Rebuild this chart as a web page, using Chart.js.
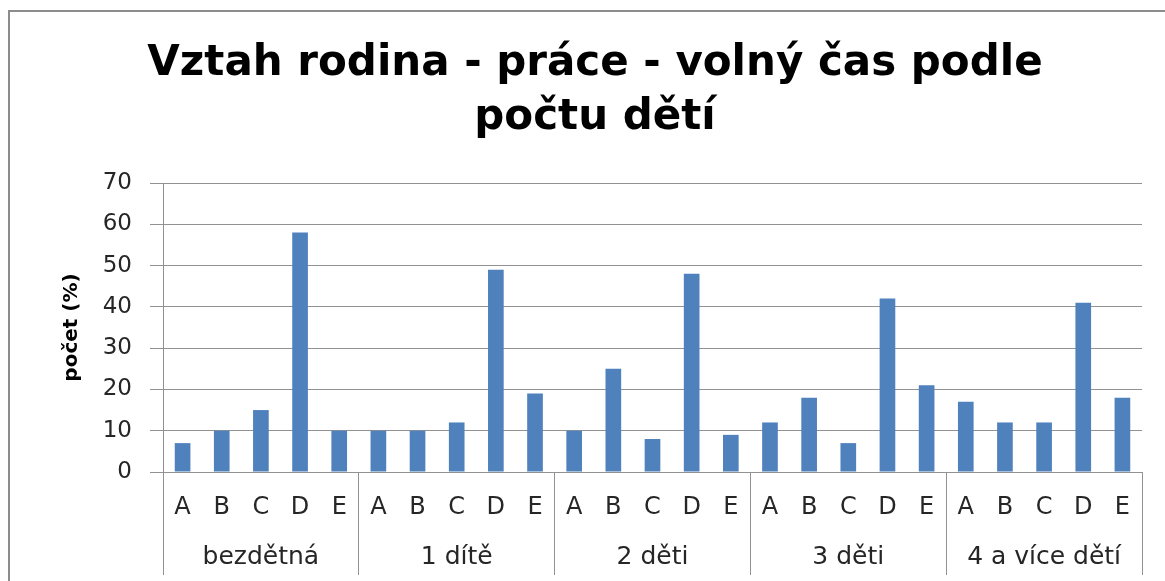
<!DOCTYPE html>
<html>
<head>
<meta charset="utf-8">
<script src="https://cdn.jsdelivr.net/npm/chart.js@4/dist/chart.umd.min.js"></script>
<style>
  body { margin: 0; background: #fff; overflow: hidden; }
  #frame { position: absolute; left: 8px; top: 10px; width: 1200px; height: 620px; border: 2px solid #8c8c8c; }
  #c { position: absolute; left: 0; top: 0; }
</style>
</head>
<body>
<div id="frame"></div>
<canvas id="c" width="1165" height="581"></canvas>
<script>
var groups = ["bezdětná", "1 dítě", "2 děti", "3 děti", "4 a více dětí"];
var answers = ["A", "B", "C", "D", "E"];
var bezdetna = [7, 10, 15, 58, 10];
var jednoDite = [10, 10, 12, 49, 19];
var dveDeti = [10, 25, 8, 48, 9];
var triDeti = [12, 18, 7, 42, 21];
var ctyriVice = [17, 12, 12, 41, 18];
var yTicks = [0, 10, 20, 30, 40, 50, 60, 70];

var lineGray = '#929292';
var labels = [];
var values = [];
[bezdetna, jednoDite, dveDeti, triDeti, ctyriVice].forEach(function (g) {
  answers.forEach(function (a, i) {
    labels.push(a);
    values.push(g[i]);
  });
});

var ctx = document.getElementById("c").getContext('2d');
var myChart = new Chart(ctx, {
  type: 'bar',
  data: {
    labels: labels,
    datasets: [{
      label: 'počet (%)',
      data: values,
      backgroundColor: '#4f81bd',
      borderWidth: 0,
      categoryPercentage: 0.4,
      barPercentage: 1
    }]
  },
  options: {
    responsive: false,
    animation: false,
    layout: { padding: { left: 48, right: 23, top: 0, bottom: 0 } },
    plugins: {
      legend: { display: false },
      tooltip: { enabled: false },
      title: {
        display: true,
        text: ["Vztah rodina - práce - volný čas podle", "počtu dětí"],
        color: '#000',
        font: { family: 'DejaVu Sans', size: 42, weight: 'bold', lineHeight: 1.286 },
        padding: { top: 37, bottom: 38 }
      }
    },
    scales: {
      y: {
        min: 0,
        max: 70,
        afterFit: function (scale) { scale.width = 115; },
        afterBuildTicks: function (scale) {
          scale.ticks = yTicks.map(function (v) { return { value: v }; });
        },
        title: {
          display: true,
          text: 'počet (%)',
          color: '#000',
          font: { family: 'DejaVu Sans', size: 20, weight: 'bold' },
          padding: { top: 12, bottom: 0 }
        },
        ticks: {
          color: '#262626',
          font: { family: 'DejaVu Sans', size: 23 },
          padding: 18
        },
        grid: { color: lineGray, tickLength: 13 },
        border: { display: true, color: lineGray }
      },
      x: {
        offset: true,
        weight: 0,
        afterFit: function (scale) { scale.height = 50; },
        ticks: {
          color: '#262626',
          font: { family: 'DejaVu Sans', size: 24 },
          padding: -82,
          autoSkip: false,
          maxRotation: 0
        },
        grid: {
          offset: true,
          drawOnChartArea: false,
          tickLength: 103,
          color: function (c) {
            return (c.index === undefined || c.index % 5 === 0) ? lineGray : 'rgba(0,0,0,0)';
          }
        },
        border: { display: true, color: lineGray }
      },
      x2: {
        type: 'category',
        position: 'bottom',
        labels: groups,
        offset: true,
        weight: 1,
        afterFit: function (scale) { scale.height = 59; },
        ticks: {
          color: '#262626',
          font: { family: 'DejaVu Sans', size: 25 },
          padding: 20,
          autoSkip: false,
          maxRotation: 0
        },
        grid: { display: false, drawTicks: false, offset: true },
        border: { display: false }
      }
    }
  }
});
</script>
</body>
</html>
